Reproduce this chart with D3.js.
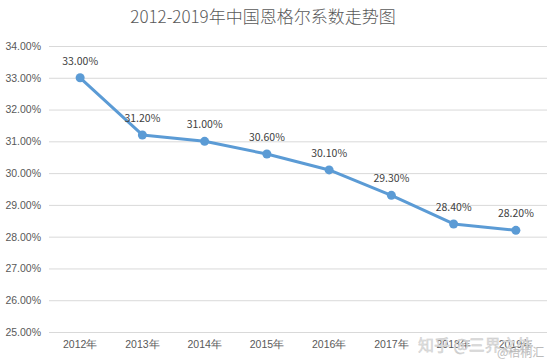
<!DOCTYPE html>
<html>
<head>
<meta charset="utf-8">
<script src="https://cdn.jsdelivr.net/npm/d3@7"></script>
<style>
  body { margin: 0; background: #fff; }
  svg { display: block; font-family: "Noto Sans CJK SC", "Noto Sans", sans-serif; }
</style>
</head>
<body>
<svg width="553" height="364"></svg>
<script>
// Data
var years = ['2012年', '2013年', '2014年', '2015年', '2016年', '2017年', '2018年', '2019年'];
var engel = [33.0, 31.2, 31.0, 30.6, 30.1, 29.3, 28.4, 28.2];
var yTicks = [25, 26, 27, 28, 29, 30, 31, 32, 33, 34];

var data = years.map((y, i) => ({year: y, value: engel[i]}));

const svg = d3.select('svg');
var margin = {left: 49, right: 6, top: 46, bottom: 32};
var width = 553, height = 364;

const xScale = d3.scaleBand()
  .domain(years)
  .range([margin.left, width - margin.right]);
const yScale = d3.scaleLinear()
  .domain([25, 34])
  .range([height - margin.bottom, margin.top]);

// title
svg.append('text')
  .attr('x', 263).attr('y', 23)
  .attr('text-anchor', 'middle')
  .style('font-size', '17px')
  .style('font-weight', 300)
  .style('fill', '#595959')
  .text('2012-2019年中国恩格尔系数走势图');

// grid lines + y labels
const yAxis = svg.append('g')
  .attr('transform', 'translate(' + margin.left + ',0)')
  .call(d3.axisLeft(yScale).tickValues(yTicks)
    .tickSize(-(width - margin.left - margin.right))
    .tickPadding(8)
    .tickFormat(d => d.toFixed(2) + '%'));
yAxis.select('.domain').remove();
yAxis.selectAll('line').attr('stroke', '#d9d9d9');
yAxis.selectAll('text').style('font-size', '10.5px').style('fill', '#595959');

// x labels
const xAxis = svg.append('g')
  .attr('transform', 'translate(0,' + (height - margin.bottom) + ')')
  .call(d3.axisBottom(xScale).tickSize(0).tickPadding(9));
xAxis.select('.domain').remove();
xAxis.selectAll('text').style('font-size', '10.5px').style('fill', '#595959');

// line
const line = d3.line()
  .x(d => xScale(d.year) + xScale.bandwidth() / 2)
  .y(d => yScale(d.value));

svg.append('path')
  .datum(data)
  .attr('d', line)
  .attr('fill', 'none')
  .attr('stroke', '#5B9BD5')
  .attr('stroke-width', 3)
  .attr('stroke-linejoin', 'round');

svg.selectAll('.dot')
  .data(data)
  .enter()
  .append('circle')
  .classed('dot', true)
  .attr('cx', d => xScale(d.year) + xScale.bandwidth() / 2)
  .attr('cy', d => yScale(d.value))
  .attr('r', 4.5)
  .attr('fill', '#5B9BD5');

// data labels
svg.selectAll('.lbl')
  .data(data)
  .enter()
  .append('text')
  .classed('lbl', true)
  .attr('x', d => xScale(d.year) + xScale.bandwidth() / 2)
  .attr('y', d => yScale(d.value) - 13)
  .attr('text-anchor', 'middle')
  .style('font-size', '10.5px')
  .style('fill', '#404040')
  .text(d => d.value.toFixed(2) + '%');

// watermark (overlaps the last axis labels, as in the source image)
svg.append('text')
  .attr('x', 418).attr('y', 351)
  .style('font-size', '16px')
  .style('fill', '#e0e0e0')
  .style('stroke', '#c8c8c8').style('stroke-width', 0.4)
  .text('知乎 @三界之外');
svg.append('text')
  .attr('x', 497).attr('y', 357)
  .style('font-size', '12px')
  .style('fill', '#bbbbbb')
  .text('@梧桐汇');
</script>
</body>
</html>
